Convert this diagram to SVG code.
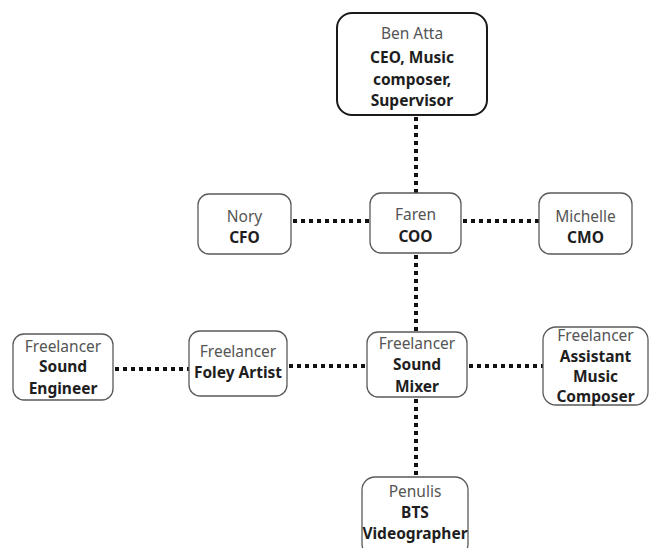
<svg xmlns="http://www.w3.org/2000/svg" width="651" height="548" viewBox="0 0 651 548">
<style>
.box{fill:#fff;stroke:#5a5a5a;stroke-width:1.3}
.main{fill:#fff;stroke:#1a1a1a;stroke-width:2}
.t{font-family:"Noto Sans","Open Sans",sans-serif;font-size:15.5px;text-anchor:middle}
.r{fill:#555}
.b{fill:#1e1e1e;font-weight:bold}
.dot{stroke:#111;stroke-width:4;stroke-dasharray:4 4;fill:none}
</style>
<rect width="651" height="548" fill="#fff"/>
<g id="connectors">
<line class="dot" x1="416" y1="117" x2="416" y2="193"/>
<line class="dot" x1="293" y1="221" x2="370" y2="221"/>
<line class="dot" x1="463" y1="221" x2="539" y2="221"/>
<line class="dot" x1="416" y1="255" x2="416" y2="332"/>
<line class="dot" x1="115" y1="369" x2="189" y2="369"/>
<line class="dot" x1="289" y1="366" x2="367" y2="366"/>
<line class="dot" x1="469" y1="366" x2="543" y2="366"/>
<line class="dot" x1="416" y1="399" x2="416" y2="477"/>
</g>
<g id="ben">
<rect class="main" x="337" y="13" width="150" height="102" rx="15"/>
<text class="t r" x="412" y="39">Ben Atta</text>
<text class="t b" x="412" y="63">CEO, Music</text>
<text class="t b" x="412" y="85">composer,</text>
<text class="t b" x="412" y="106">Supervisor</text>
</g>
<g id="nory">
<rect class="box" x="198" y="194" width="93" height="60" rx="11"/>
<text class="t r" x="244.5" y="222">Nory</text>
<text class="t b" x="244.5" y="243">CFO</text>
</g>
<g id="faren">
<rect class="box" x="370" y="193" width="91" height="60" rx="11"/>
<text class="t r" x="415.5" y="220">Faren</text>
<text class="t b" x="415.5" y="242">COO</text>
</g>
<g id="michelle">
<rect class="box" x="539" y="193" width="93" height="61" rx="11"/>
<text class="t r" x="585.5" y="222">Michelle</text>
<text class="t b" x="585.5" y="243">CMO</text>
</g>
<g id="soundengineer">
<rect class="box" x="13" y="334" width="100" height="66" rx="11"/>
<text class="t r" x="63" y="352">Freelancer</text>
<text class="t b" x="63" y="372">Sound</text>
<text class="t b" x="63" y="394">Engineer</text>
</g>
<g id="foley">
<rect class="box" x="189" y="331" width="98" height="65" rx="11"/>
<text class="t r" x="238" y="357">Freelancer</text>
<text class="t b" x="238" y="378">Foley Artist</text>
</g>
<g id="soundmixer">
<rect class="box" x="367" y="332" width="100" height="65" rx="11"/>
<text class="t r" x="417" y="349">Freelancer</text>
<text class="t b" x="417" y="370">Sound</text>
<text class="t b" x="417" y="392">Mixer</text>
</g>
<g id="assistant">
<rect class="box" x="543" y="327" width="105" height="78" rx="13"/>
<text class="t r" x="595.5" y="341">Freelancer</text>
<text class="t b" x="595.5" y="362">Assistant</text>
<text class="t b" x="595.5" y="382">Music</text>
<text class="t b" x="595.5" y="402">Composer</text>
</g>
<g id="penulis">
<rect class="box" x="362" y="477" width="106" height="80" rx="13"/>
<text class="t r" x="415" y="497">Penulis</text>
<text class="t b" x="415" y="518">BTS</text>
<text class="t b" x="415" y="539">Videographer</text>
</g>
</svg>
